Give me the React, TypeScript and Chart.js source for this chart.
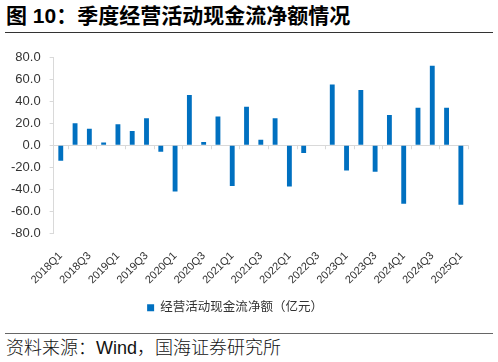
import React, { useEffect, useRef } from "react";
import { Chart, registerables } from "chart.js";

Chart.register(...registerables);

const categories = [
  "2018Q1", "2018Q2", "2018Q3", "2018Q4",
  "2019Q1", "2019Q2", "2019Q3", "2019Q4",
  "2020Q1", "2020Q2", "2020Q3", "2020Q4",
  "2021Q1", "2021Q2", "2021Q3", "2021Q4",
  "2022Q1", "2022Q2", "2022Q3", "2022Q4",
  "2023Q1", "2023Q2", "2023Q3", "2023Q4",
  "2024Q1", "2024Q2", "2024Q3", "2024Q4",
  "2025Q1",
];

const cashFlow = [
  -14, 20, 15, 2.5,
  19, 13, 24.5, -6,
  -42, 45.5, 3, 26,
  -37, 35, 5, 24.5,
  -37.5, -7, 0, 55,
  -23, 50, -24, 27.5,
  -53, 34, 72, 34,
  -54,
];

const seriesName = "经营活动现金流净额（亿元）";
const titleText = "图 10：季度经营活动现金流净额情况";
const sourceText = "资料来源：Wind，国海证券研究所";

const FONT = "'Liberation Sans', 'Noto Sans CJK SC', sans-serif";

const zeroTicks = {
  id: "zeroTicks",
  afterDatasetsDraw(chart: any) {
    const x = chart.scales.x;
    const y = chart.scales.y;
    const y0 = y.getPixelForValue(0);
    const ctx = chart.ctx;
    ctx.save();
    ctx.strokeStyle = "#d9d9d9";
    ctx.lineWidth = 1;
    const half = (x.getPixelForValue(1) - x.getPixelForValue(0)) / 2;
    for (let i = 0; i < categories.length; i += 2) {
      const px = Math.round(x.getPixelForValue(i) + half) + 0.5;
      ctx.beginPath();
      ctx.moveTo(px, y0);
      ctx.lineTo(px, y0 + 4);
      ctx.stroke();
    }
    ctx.restore();
  },
};

function BarChart() {
  const ref = useRef<HTMLCanvasElement | null>(null);
  useEffect(() => {
    if (!ref.current) return;
    const chart = new Chart(ref.current, {
      type: "bar",
      data: {
        labels: categories,
        datasets: [
          {
            label: seriesName,
            data: cashFlow,
            backgroundColor: "#0070C0",
            barPercentage: 0.34,
            categoryPercentage: 1,
          },
        ],
      },
      options: {
        animation: false,
        responsive: false,
        maintainAspectRatio: false,
        layout: { padding: { top: 41, right: 30, left: 2, bottom: 0 } },
        plugins: {
          legend: {
            position: "bottom",
            labels: {
              boxWidth: 7,
              boxHeight: 7,
              font: { size: 12.5, family: FONT },
              color: "#333",
              padding: 7,
            },
          },
          tooltip: { enabled: false },
        },
        scales: {
          x: {
            grid: { display: false },
            border: { display: false },
            ticks: {
              autoSkip: false,
              maxRotation: 45,
              minRotation: 45,
              color: "#333",
              font: { size: 11, family: FONT },
              padding: 8,
              callback: (_v: any, i: number) => (i % 2 === 0 ? categories[i] : ""),
            },
          },
          y: {
            min: -80,
            max: 80,
            border: { display: true, color: "#d9d9d9" },
            grid: {
              color: (c: any) => (c.tick && c.tick.value === 0 ? "#d9d9d9" : "rgba(0,0,0,0)"),
              tickColor: "#d9d9d9",
              tickLength: 4,
            },
            ticks: {
              stepSize: 20,
              color: "#333",
              font: { size: 13, family: FONT },
              padding: 9,
              callback: (v: any) => Number(v).toFixed(1),
            },
          },
        },
      },
      plugins: [zeroTicks],
    });
    return () => chart.destroy();
  }, []);
  return <canvas ref={ref} width={498} height={308} style={{ display: "block" }} />;
}

export default function App() {
  return (
    <div
      style={{
        position: "absolute",
        left: 0,
        top: 0,
        width: 498,
        height: 362,
        background: "#fff",
        fontFamily: "'Liberation Sans', 'Noto Sans CJK SC', sans-serif",
      }}
    >
      <div
        style={{
          position: "absolute",
          left: 6,
          top: 3,
          fontSize: 21,
          fontWeight: "bold",
          color: "#000",
          lineHeight: "26px",
          whiteSpace: "nowrap",
        }}
      >
        {titleText}
      </div>
      <div style={{ position: "absolute", left: 5, top: 32, width: 488, height: 1, background: "#333" }} />
      <div style={{ position: "absolute", left: 0, top: 16 }}>
        <BarChart />
      </div>
      <div style={{ position: "absolute", left: 5, top: 333, width: 488, height: 1, background: "#666" }} />
      <div
        style={{
          position: "absolute",
          left: 6,
          top: 337,
          fontSize: 18,
          color: "#111",
          lineHeight: "22px",
          whiteSpace: "nowrap",
          fontWeight: 300,
        }}
      >
        {sourceText}
      </div>
    </div>
  );
}
